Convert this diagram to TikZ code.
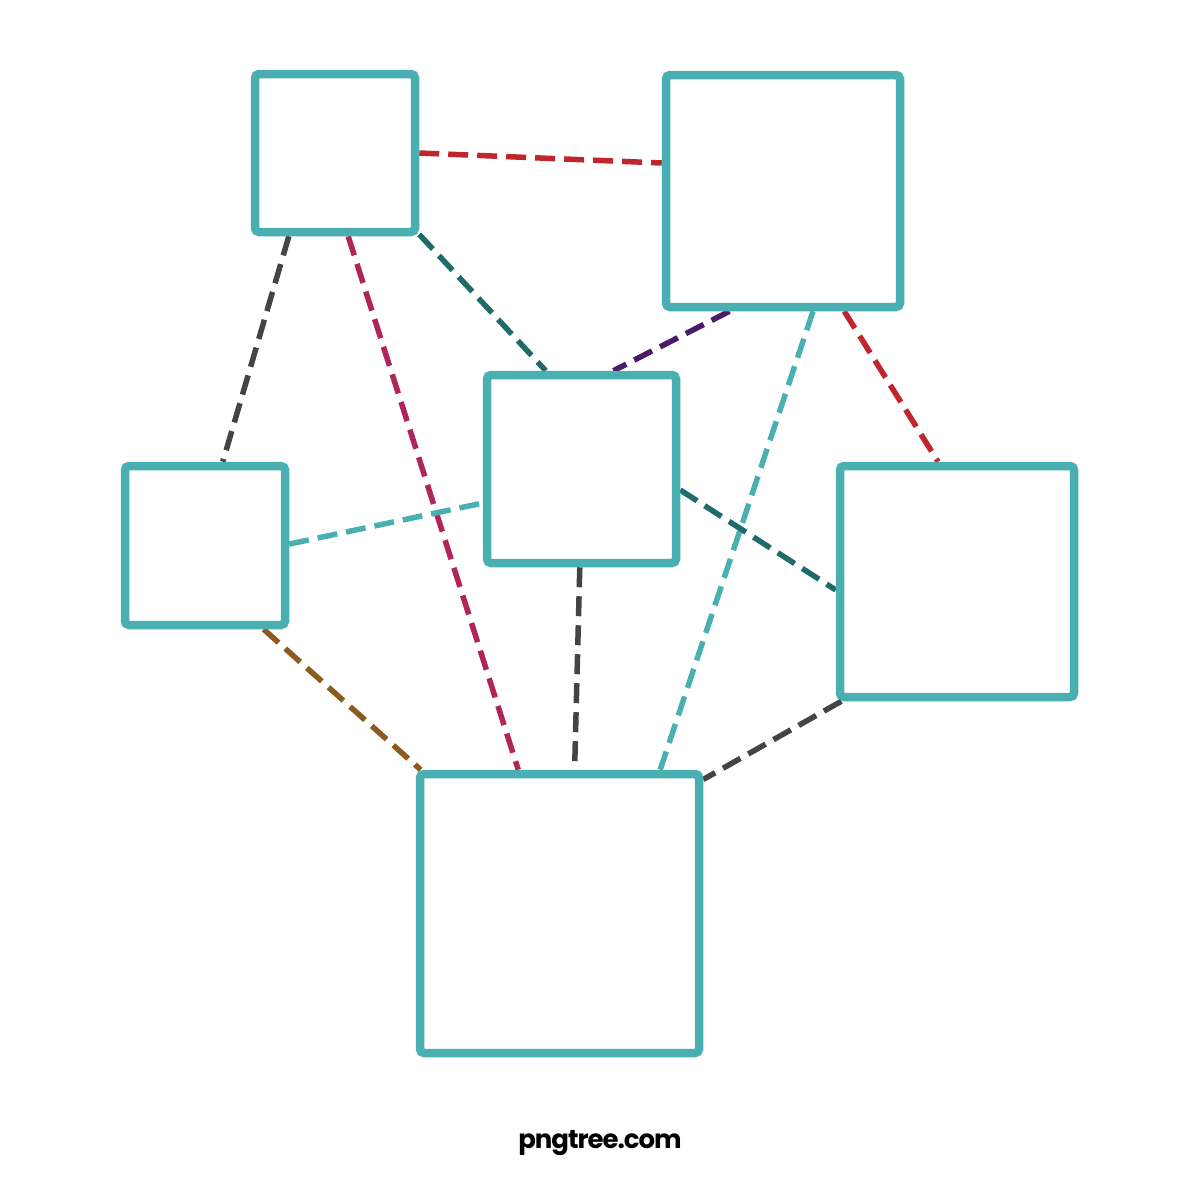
\documentclass[tikz,border=0pt]{standalone}
\usepackage{fontspec}
\newfontfamily\markfont[LetterSpace=-4]{Poppins}
\usetikzlibrary{backgrounds}
\definecolor{boxcol}{HTML}{4AAFB0}
\definecolor{redcol}{HTML}{C0272D}
\definecolor{graycol}{HTML}{444444}
\definecolor{crimsoncol}{HTML}{B0245A}
\definecolor{darkteal}{HTML}{1E6B6B}
\definecolor{purplecol}{HTML}{4B1A6B}
\definecolor{browncol}{HTML}{8B5A1E}
\tikzset{
  box/.style={draw=boxcol,line width=8.5pt,rounded corners=4pt,rectangle,inner sep=0pt},
  link/.style={line width=5.5pt,dash pattern=on 20pt off 9pt},
}
\begin{document}
\begin{tikzpicture}[x=1pt,y=-1pt]
  \useasboundingbox (0,0) rectangle (1200,1200);
  % Node: Top_Left
  \node[box,minimum width=160pt,minimum height=158pt] (Top_Left) at (335,153) {};
  % Node: Top_Right
  \node[box,minimum width=234pt,minimum height=232pt] (Top_Right) at (783,191) {};
  % Node: Middle
  \node[box,minimum width=189pt,minimum height=188pt] (Middle) at (581.5,469) {};
  % Node: Left
  \node[box,minimum width=160pt,minimum height=159pt] (Left) at (205,545.5) {};
  % Node: Right
  \node[box,minimum width=234pt,minimum height=231pt] (Right) at (957,581.5) {};
  % Node: Bottom
  \node[box,minimum width=279pt,minimum height=279pt] (Bottom) at (559.5,913.5) {};
\begin{scope}[on background layer]
  % Edge: Top_Left -> Top_Right
  \draw[link,redcol] (Top_Left.east) -- (Top_Right.167);
  % Edge: Top_Left -> Left
  \draw[link,graycol] (Top_Left.-119.5) -- (Left.78.5);
  % Edge: Top_Left -> Bottom
  \draw[link,crimsoncol] (Top_Left.-81.8) -- (Bottom.106.5);
  % Edge: Top_Left -> Middle
  \draw[link,darkteal] (Top_Left.-44.6) -- (Middle.110.4);
  % Edge: Top_Right -> Middle
  \draw[link,purplecol] (Top_Right.-114.6) -- (Middle.72.7);
  % Edge: Top_Right -> Bottom
  \draw[link,boxcol] (Top_Right.-76.4) -- (Bottom.55.5);
  % Edge: Top_Right -> Right
  \draw[link,redcol] (Top_Right.-63.4) -- (Right.99.5);
  % Edge: Left -> Middle
  \draw[link,boxcol] (Left.1.7) -- (Middle.-161);
  % Edge: Middle -> Bottom
  \draw[link,graycol] (Middle.-91.5) -- (Bottom.84.6);
  % Edge: Middle -> Right
  \draw[link,darkteal] (Middle.-12) -- (Right.-176);
  % Edge: Left -> Bottom
  \draw[link,browncol] (Left.-55.7) -- (Bottom.134);
  % Edge: Right -> Bottom
  \draw[link,graycol] (Right.-134.4) -- (Bottom.43.8);
\end{scope}
  % Mark
  \node[font=\markfont\bfseries\fontsize{26pt}{26pt}\selectfont,inner sep=0pt] (Mark) at (600,1143) {pngtree.com};
\end{tikzpicture}
\end{document}
